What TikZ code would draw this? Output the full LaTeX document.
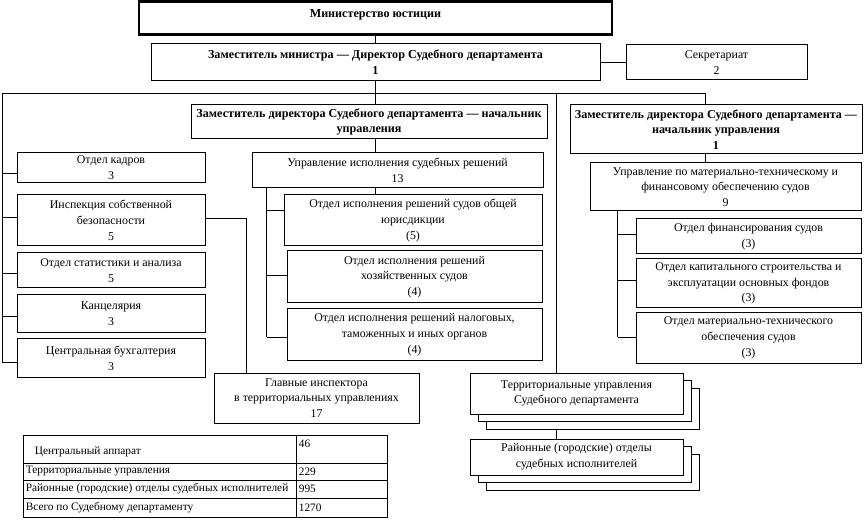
\documentclass[tikz,border=0pt]{standalone}
\usepackage{fontspec}
\setmainfont{Liberation Serif}
\usetikzlibrary{shadows,backgrounds}

\begin{document}
\begin{tikzpicture}[x=0.75pt, y=-0.75pt, line width=0.75pt,
  orgbox/.style={draw, rectangle, fill=white, align=center, inner sep=1pt,
    font=\fontsize{8.9}{11.8}\selectfont},
  headbox/.style={orgbox, font=\bfseries\fontsize{9.1}{11.8}\selectfont},
  stackbox/.style={orgbox,
    copy shadow={shadow xshift=12pt, shadow yshift=-11.5pt, draw, fill=white},
    copy shadow={shadow xshift=6pt, shadow yshift=-5.8pt, draw, fill=white}},
  cell/.style={anchor=west, inner sep=1pt, font=\fontsize{8.5}{10}\selectfont}]
\useasboundingbox (0,0) rectangle (864,520);

% top
\node[headbox, line width=1.9pt, minimum width=354.75pt, minimum height=24.75pt,
  text height=7pt, text depth=7pt] (min) at (375.5,18) {Министерство юстиции};
\node[headbox, minimum width=336.75pt, minimum height=27.75pt] (dep) at (375.5,62.5)
  {Заместитель министра — Директор Судебного департамента\\1};
\node[orgbox, minimum width=135.75pt, minimum height=26.25pt] (sec) at (716.5,62.5)
  {Секретариат\\2};
\node[headbox, minimum width=267pt, minimum height=25.5pt] (depmid) at (369,122)
  {Заместитель директора Судебного департамента — начальник\\управления};
\node[headbox, minimum width=219pt, minimum height=36.75pt] (depright) at (716,129.5)
  {Заместитель директора Судебного департамента —\\начальник управления\\1};

% left column
\node[orgbox, minimum width=141pt, minimum height=22.5pt, yshift=-2pt] (kadry) at (111,165)
  {Отдел кадров\\3};
\node[orgbox, minimum width=141pt, minimum height=38.25pt] (insp) at (111,220.5)
  {Инспекция собственной\\безопасности\\5};
\node[orgbox, minimum width=141pt, minimum height=26.25pt] (stat) at (111,270.5)
  {Отдел статистики и анализа\\5};
\node[orgbox, minimum width=141pt, minimum height=28.5pt] (kanc) at (111,314) {Канцелярия\\3};
\node[orgbox, minimum width=141pt, minimum height=28.5pt] (buh) at (111,358)
  {Центральная бухгалтерия\\3};

% middle column
\node[orgbox, minimum width=218.25pt, minimum height=26.25pt] (uprisp) at (397.5,170.5)
  {Управление исполнения судебных решений\\13};
\node[orgbox, minimum width=193.5pt, minimum height=38.25pt] (otd1) at (413,220.5)
  {Отдел исполнения решений судов общей\\юрисдикции\\(5)};
\node[orgbox, minimum width=191.25pt, minimum height=39pt] (otd2) at (414.5,277)
  {Отдел исполнения решений\\хозяйственных судов\\(4)};
\node[orgbox, minimum width=191.25pt, minimum height=38.25pt] (otd3) at (414.5,334.5)
  {Отдел исполнения решений налоговых,\\таможенных и иных органов\\(4)};

% right column
\node[orgbox, minimum width=203.25pt, minimum height=36pt] (uprmt) at (725.5,187)
  {Управление по материально-техническому и\\финансовому обеспечению судов\\9};
\node[orgbox, minimum width=168.75pt, minimum height=26.25pt] (fin) at (748.5,236.5)
  {Отдел финансирования судов\\(3)};
\node[orgbox, minimum width=168.75pt, minimum height=36.75pt] (kap) at (748.5,283.5)
  {Отдел капитального строительства и\\эксплуатации основных фондов\\(3)};
\node[orgbox, minimum width=168.75pt, minimum height=37.5pt] (mto) at (748.5,338)
  {Отдел материально-технического\\обеспечения судов\\(3)};

% bottom
\node[orgbox, minimum width=153.75pt, minimum height=37.5pt] (glav) at (316.5,398)
  {Главные инспектора\\в территориальных управлениях\\17};
\node[stackbox, minimum width=159.75pt, minimum height=30.75pt] (terr) at (576.5,393.5)
  {Территориальные управления\\Судебного департамента};
\node[stackbox, minimum width=159.75pt, minimum height=27pt] (rai) at (576.5,457)
  {Районные (городские) отделы\\судебных исполнителей};

% table
\draw (23,435) rectangle (387,517);
\draw (296,435) -- (296,517);
\foreach \y in {463,480,498}
  \draw (23,\y) -- (387,\y);
\node[cell] (c1) at (33,452) {Центральный аппарат};
\node[cell] (n1) at (297,444) {46};
\node[cell] (c2) at (24,471.5) {Территориальные управления};
\node[cell] (n2) at (297,471.5) {229};
\node[cell] (c3) at (24,489) {Районные (городские) отделы судебных исполнителей};
\node[cell] (n3) at (297,489) {995};
\node[cell] (c4) at (24,507.5) {Всего по Судебному департаменту};
\node[cell] (n4) at (297,507.5) {1270};

% connectors
\begin{scope}[on background layer]
\coordinate (busL) at (2,93);
\coordinate (busM) at (556,93);
\coordinate (busR) at (705,93);
\coordinate (trunkI) at ([xshift=11.25pt]uprisp.south west);
\coordinate (trunkF) at ([xshift=21pt]uprmt.south west);
\draw (min) -- (dep);
\draw (dep) -- (sec);
\draw (busL) -- (busR) -- (busR |- uprmt.north);
\draw (dep.south) -- (dep.south |- otd1.north);
\draw (busM) -- (busM |- rai.north);
\draw (busL) -- ([yshift=-3pt]buh.west -| busL);
\foreach \n/\dy in {kadry/-4,insp/2.6,stat/-1.9,kanc/-1.5,buh/-3}
  \draw ([yshift=\dy pt]\n.west) -- ([yshift=\dy pt]\n.west -| busL);
\draw ([yshift=1.9pt]insp.east) -| ([xshift=24.75pt]glav.north west);
\draw (trunkI) -- ([yshift=-1.9pt]otd3.west -| trunkI);
\foreach \n/\dy in {otd1/7.9,otd2/1.5,otd3/-1.9}
  \draw ([yshift=\dy pt]\n.west) -- ([yshift=\dy pt]\n.west -| trunkI);
\draw (trunkF) -- ([yshift=0.75pt]mto.west -| trunkF);
\foreach \n/\dy in {fin/1.9,kap/2.6,mto/0.75}
  \draw ([yshift=\dy pt]\n.west) -- ([yshift=\dy pt]\n.west -| trunkF);
\end{scope}

\end{tikzpicture}
\end{document}
